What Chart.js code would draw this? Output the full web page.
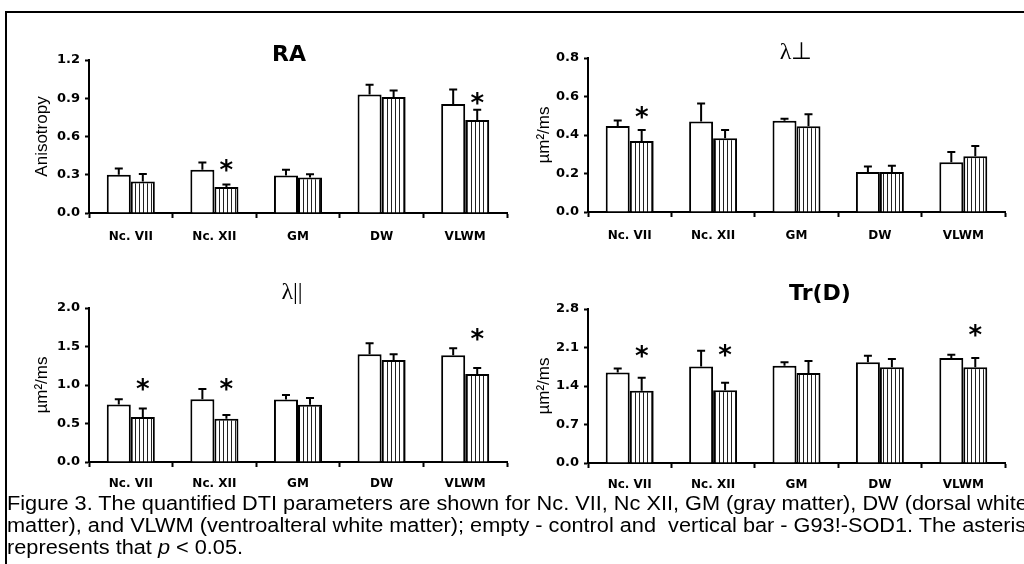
<!DOCTYPE html>
<html>
<head>
<meta charset="utf-8">
<script src="https://cdn.jsdelivr.net/npm/chart.js"></script>
<style>
  html, body { margin: 0; padding: 0; background: #fff; width: 1024px; height: 564px; overflow: hidden; }
  .frame { position: absolute; left: 5px; top: 11px; width: 1200px; height: 700px; border-left: 2px solid #000; border-top: 2px solid #000; }
  canvas { position: absolute; }
  .caption { position: absolute; left: 7px; top: 492px; font-family: 'Liberation Sans', Arial, sans-serif; font-size: 20px; line-height: 22px; white-space: pre; transform-origin: 0 0; color: #000; }
  .caption span.line { display: inline-block; }
</style>
</head>
<body>
<div class="frame"></div>
<canvas id="raChart" width="518" height="218" style="left:30px;top:30px"></canvas>
<canvas id="perpChart" width="532" height="217" style="left:530px;top:30px"></canvas>
<canvas id="parChart" width="524" height="227" style="left:30px;top:270px"></canvas>
<canvas id="trChart" width="580" height="228" style="left:530px;top:270px"></canvas>
<div class="caption" id="caption"><span class="line" id="capLine1">Figure 3. The quantified DTI parameters are shown for Nc. VII, Nc XII, GM (gray matter), DW (dorsal white</span>
<span class="line">matter), and VLWM (ventroalteral white matter); empty - control and  vertical bar - G93!-SOD1. The asterisk</span>
<span class="line">represents that <i>p</i> &lt; 0.05.</span></div>
<script>
// regions on the x axis
const regions = ['Nc. VII', 'Nc. XII', 'GM', 'DW', 'VLWM'];

// RA (anisotropy)
const raControl = [0.30, 0.34, 0.295, 0.93, 0.855];
const raControlErr = [0.05, 0.057, 0.044, 0.075, 0.114];
const raSod = [0.248, 0.203, 0.278, 0.91, 0.73];
const raSodErr = [0.057, 0.02, 0.026, 0.05, 0.08];
const raStars = [null, 0.37, null, null, 0.895];

// lambda perpendicular
const perpControl = [0.447, 0.47, 0.474, 0.208, 0.258];
const perpControlErr = [0.028, 0.093, 0.01, 0.029, 0.054];
const perpSod = [0.369, 0.383, 0.446, 0.208, 0.29];
const perpSodErr = [0.057, 0.043, 0.062, 0.032, 0.053];
const perpStars = [0.515, null, null, null, null];

// lambda parallel
const parControl = [0.747, 0.815, 0.813, 1.40, 1.387];
const parControlErr = [0.068, 0.133, 0.057, 0.143, 0.091];
const parSod = [0.584, 0.562, 0.743, 1.326, 1.143];
const parSodErr = [0.111, 0.048, 0.087, 0.074, 0.077];
const parStars = [1.0, 1.0, null, null, 1.64];

// trace
const trControl = [1.645, 1.753, 1.77, 1.83, 1.91];
const trControlErr = [0.072, 0.287, 0.06, 0.12, 0.06];
const trSod = [1.312, 1.324, 1.636, 1.74, 1.74];
const trSodErr = [0.236, 0.133, 0.219, 0.15, 0.17];
const trStars = [2.01, 2.04, null, null, 2.39];

Chart.defaults.font.family = '"DejaVu Sans", sans-serif';
Chart.defaults.color = '#000';

// error bars (upper only) and significance asterisks
const barMarks = {
    id: 'barMarks',
    afterDatasetsDraw(chart, args, opts) {
        const ctx = chart.ctx;
        const yScale = chart.scales.y;
        ctx.save();
        ctx.strokeStyle = '#000';
        ctx.lineWidth = 2;
        chart.data.datasets.forEach((ds, i) => {
            chart.getDatasetMeta(i).data.forEach((bar, j) => {
                const top = yScale.getPixelForValue(ds.data[j] + ds.errors[j]);
                ctx.beginPath();
                ctx.moveTo(bar.x, bar.y);
                ctx.lineTo(bar.x, top);
                ctx.moveTo(bar.x - 4, top);
                ctx.lineTo(bar.x + 4, top);
                ctx.stroke();
            });
        });
        const sodMeta = chart.getDatasetMeta(1);
        ctx.fillStyle = '#000';
        ctx.font = 'bold 26px "DejaVu Sans"';
        ctx.textAlign = 'center';
        ctx.textBaseline = 'middle';
        (opts.stars || []).forEach((v, j) => {
            if (v === null) return;
            ctx.fillText('*', sodMeta.data[j].x, yScale.getPixelForValue(v) + 6);
        });
        ctx.restore();
    }
};

function stripes(ctx) {
    const c = document.createElement('canvas');
    c.width = 4;
    c.height = 4;
    const g = c.getContext('2d');
    g.fillStyle = '#fff';
    g.fillRect(0, 0, 4, 4);
    g.fillStyle = '#222';
    g.fillRect(1, 0, 1, 4);
    return ctx.createPattern(c, 'repeat');
}

function createChart(id, cfg) {
    const ctx = document.getElementById(id).getContext('2d');
    return new Chart(ctx, {
        type: 'bar',
        data: {
            labels: regions,
            datasets: [{
                label: 'control',
                data: cfg.control,
                errors: cfg.controlErr,
                backgroundColor: '#fff',
                borderColor: '#000',
                borderWidth: 2
            }, {
                label: 'G93A-SOD1',
                data: cfg.sod,
                errors: cfg.sodErr,
                backgroundColor: stripes(ctx),
                borderColor: '#000',
                borderWidth: 2
            }]
        },
        options: {
            responsive: false,
            animation: false,
            categoryPercentage: 0.575,
            barPercentage: 1.0,
            layout: { padding: 0 },
            scales: {
                x: {
                    afterFit: (s) => { s.height = 35; },
                    border: { color: '#000', width: 2 },
                    grid: { offset: true, drawOnChartArea: false, drawTicks: true, tickLength: 5, tickColor: '#000', tickWidth: 2 },
                    ticks: { padding: cfg.xPad, font: { size: 12, weight: 'bold' }, maxRotation: 0 }
                },
                y: {
                    min: 0,
                    max: cfg.max,
                    afterFit: (s) => { s.width = cfg.yWidth; },
                    border: { color: '#000', width: 2 },
                    grid: { drawOnChartArea: false, drawTicks: true, tickLength: 4, tickColor: '#000', tickWidth: 2 },
                    ticks: { stepSize: cfg.step, padding: 5, font: { size: 13, weight: 'bold' }, callback: (v) => v.toFixed(1) },
                    title: { display: true, text: cfg.yTitle, padding: { top: cfg.yTitlePad, bottom: 0 }, font: { size: 17, family: '"Liberation Sans", Arial, sans-serif' } }
                },
                // empty spacer on the right so the panel title sits where it does in the figure
                spacer: {
                    type: 'linear',
                    position: 'right',
                    display: true,
                    afterFit: (s) => { s.width = cfg.padRight; },
                    border: { display: false },
                    grid: { display: false },
                    ticks: { display: false }
                }
            },
            plugins: {
                legend: { display: false },
                tooltip: { enabled: false },
                title: { display: true, text: cfg.title, font: cfg.titleFont, padding: cfg.titlePad },
                barMarks: { stars: cfg.stars }
            }
        },
        plugins: [barMarks]
    });
}

createChart('raChart', {
    control: raControl, controlErr: raControlErr, sod: raSod, sodErr: raSodErr, stars: raStars,
    max: 1.2, step: 0.3, title: 'RA',
    titleFont: { size: 22, weight: 'bold', lineHeight: '24px' }, titlePad: { top: 13, bottom: -7 },
    yTitle: 'Anisotropy', yTitlePad: 2, yWidth: 59, xPad: 12, padRight: 41
});

createChart('perpChart', {
    control: perpControl, controlErr: perpControlErr, sod: perpSod, sodErr: perpSodErr, stars: perpStars,
    max: 0.8, step: 0.2, title: 'λ⊥',
    titleFont: { size: 24, weight: 'normal', family: '"Liberation Serif", serif', lineHeight: '24px' }, titlePad: { top: 11, bottom: -7 },
    yTitle: 'µm²/ms', yTitlePad: 4, yWidth: 58, xPad: 12, padRight: 57
});

createChart('parChart', {
    control: parControl, controlErr: parControlErr, sod: parSod, sodErr: parSodErr, stars: parStars,
    max: 2.0, step: 0.5, title: 'λ||',
    titleFont: { size: 24, weight: 'normal', family: '"Liberation Serif", serif', lineHeight: '24px' }, titlePad: { top: 11, bottom: 3 },
    yTitle: 'µm²/ms', yTitlePad: 2, yWidth: 59, xPad: 10, padRight: 47
});

createChart('trChart', {
    control: trControl, controlErr: trControlErr, sod: trSod, sodErr: trSodErr, stars: trStars,
    max: 2.8, step: 0.7, title: 'Tr(D)',
    titleFont: { size: 22, weight: 'bold', lineHeight: '24px' }, titlePad: { top: 12, bottom: 3 },
    yTitle: 'µm²/ms', yTitlePad: 4, yWidth: 58, xPad: 10, padRight: 105
});

// squeeze the caption so its first line runs to the page edge like the figure
const line1 = document.getElementById('capLine1');
const sx = 1021 / line1.getBoundingClientRect().width;
document.getElementById('caption').style.transform = 'scaleX(' + sx.toFixed(3) + ')';
</script>
</body>
</html>
